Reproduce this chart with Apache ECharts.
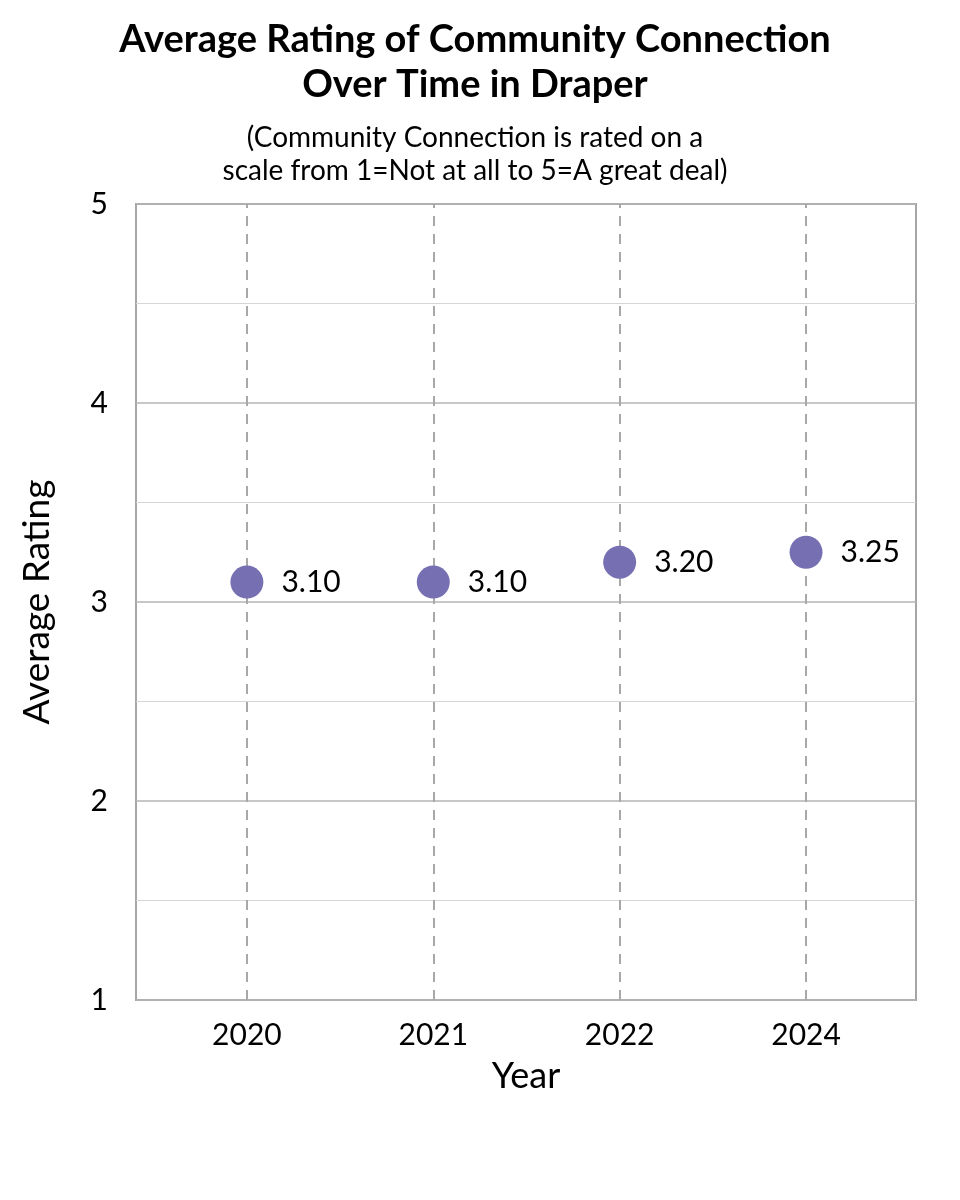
<!DOCTYPE html>
<html>
<head>
<meta charset="utf-8">
<script src="https://cdn.jsdelivr.net/npm/echarts@6/dist/echarts.min.js"></script>
<style>
  html, body { margin: 0; padding: 0; background: #fff; }
  #chart { width: 960px; height: 1200px; }
</style>
</head>
<body>
<div id="chart"></div>
<script>
// data
var years = ['2020', '2021', '2022', '2024'];
var ratings = [3.10, 3.10, 3.20, 3.25];
var yTicks = [1, 2, 3, 4, 5];

var font = 'Lato';
var chart = echarts.init(document.getElementById('chart'));

var points = ratings.map(function (v, i) { return [i, v]; });
var guides = years.map(function (y, i) { return { xAxis: i }; });

chart.setOption({
  animation: false,
  textStyle: { fontFamily: font },
  title: [{
    text: 'Average Rating of Community Connection\nOver Time in Draper',
    left: 470, top: 12, textAlign: 'center',
    textStyle: { fontFamily: font, fontSize: 38, fontWeight: 'bold', color: '#000', lineHeight: 45, align: 'center' }
  }, {
    text: '(Community Connection is rated on a\nscale from 1=Not at all to 5=A great deal)',
    left: 470, top: 116, textAlign: 'center',
    textStyle: { fontFamily: font, fontSize: 28, fontWeight: 'normal', color: '#000', lineHeight: 33, align: 'center' }
  }],
  grid: {
    left: 136, right: 44, top: 204, bottom: 200,
    show: true, borderColor: '#a6a6a6', borderWidth: 2
  },
  xAxis: {
    type: 'value', min: -0.595, max: 3.59,
    name: 'Year', nameLocation: 'middle', nameGap: 58,
    nameTextStyle: { fontFamily: font, fontSize: 36, color: '#000' },
    axisLine: { show: false },
    axisTick: { show: false },
    splitLine: { show: false },
    axisLabel: {
      customValues: years.map(function (y, i) { return i; }),
      formatter: function (v) { return years[Math.round(v)]; },
      fontFamily: font, fontSize: 30, color: '#000', margin: 20
    }
  },
  yAxis: {
    type: 'value', min: yTicks[0], max: yTicks[yTicks.length - 1], interval: 1,
    name: 'Average Rating', nameLocation: 'middle', nameRotate: 90, nameGap: 80,
    nameTextStyle: { fontFamily: font, fontSize: 37, color: '#000' },
    axisLine: { show: false },
    axisTick: { show: false },
    axisLabel: { fontFamily: font, fontSize: 30, color: '#000', margin: 28 },
    splitLine: { lineStyle: { color: '#b4b4b4', width: 1.5 } },
    minorTick: { show: false, splitNumber: 2 },
    minorSplitLine: { show: true, lineStyle: { color: '#d6d6d6', width: 1 } }
  },
  series: [{
    type: 'scatter', data: [], z: 1, silent: true,
    markLine: {
      silent: true, symbol: 'none', label: { show: false },
      lineStyle: { color: '#a8a8a8', type: [10, 8], width: 2 },
      data: guides
    }
  }, {
    type: 'scatter', z: 5,
    data: points,
    symbolSize: 33,
    itemStyle: { color: '#7670b3', opacity: 1 },
    label: {
      show: true, position: 'right', distance: 18,
      formatter: function (p) { return p.value[1].toFixed(2); },
      fontFamily: font, fontSize: 30, color: '#000'
    }
  }]
});
</script>
</body>
</html>
